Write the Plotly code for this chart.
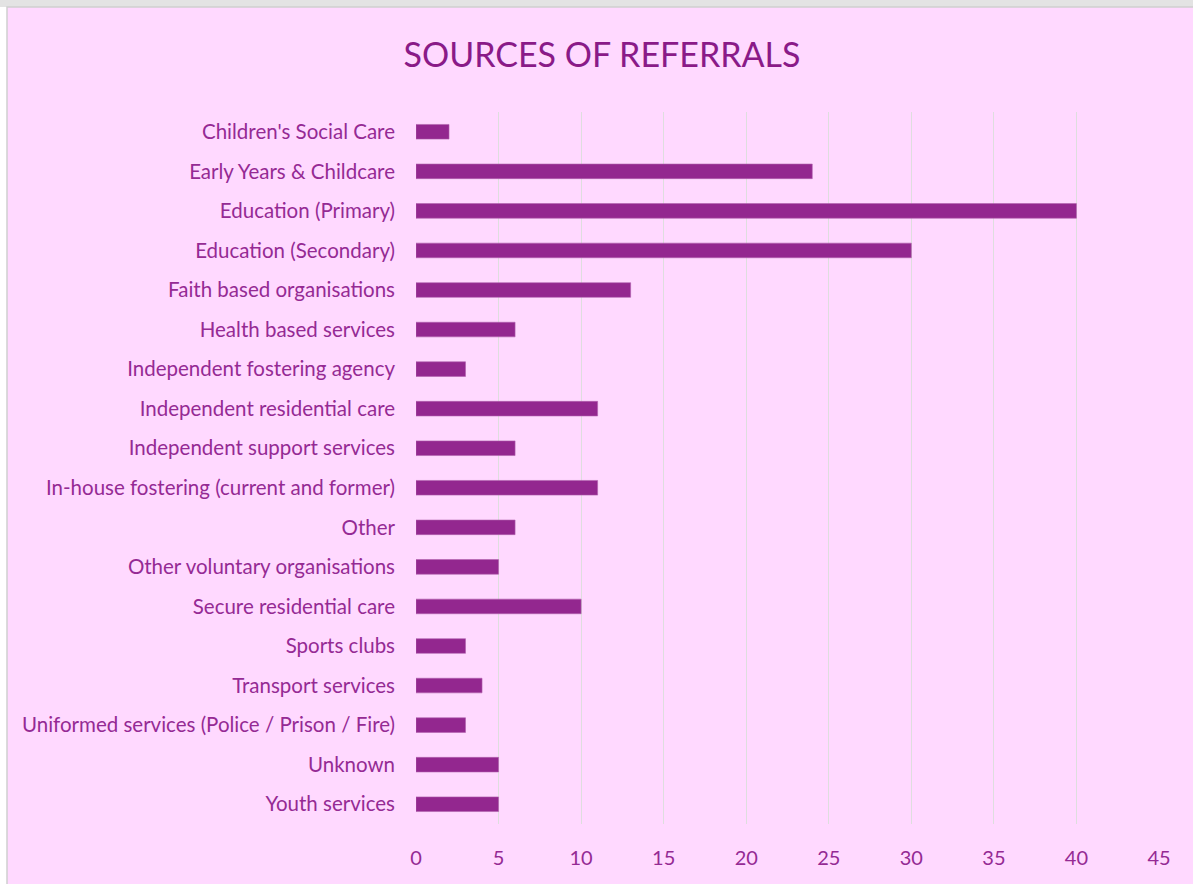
import plotly.graph_objects as go

# Referral sources, listed top to bottom
categories = [
    "Children's Social Care",
    "Early Years & Childcare",
    "Education (Primary)",
    "Education (Secondary)",
    "Faith based organisations",
    "Health based services",
    "Independent fostering agency",
    "Independent residential care",
    "Independent support services",
    "In-house fostering (current and former)",
    "Other",
    "Other voluntary organisations",
    "Secure residential care",
    "Sports clubs",
    "Transport services",
    "Uniformed services (Police / Prison / Fire)",
    "Unknown",
    "Youth services",
]
referrals = [2, 24, 40, 30, 13, 6, 3, 11, 6, 11, 6, 5, 10, 3, 4, 3, 5, 5]
x_ticks = [0, 5, 10, 15, 20, 25, 30, 35, 40, 45]

W, H = 1193, 884
L, R, T, B = 416, 34, 112, 60
PINK = "#FFD9FF"
BAR = "#93278F"
TEXT = "#952A94"
FONT = "Lato, 'Open Sans', sans-serif"

fig = go.Figure(
    go.Bar(
        x=referrals,
        y=categories,
        orientation="h",
        width=0.37,
        marker=dict(color=BAR, line=dict(color="#B061AD", width=0.6)),
        hoverinfo="x+y",
    )
)

pw, ph = W - L - R, H - T - B


def px_x(p):
    return (p - L) / pw


def px_y(p):
    return (H - B - p) / ph


# Chart frame: pink panel with a thin grey edge on the top and left
fig.add_shape(type="rect", xref="paper", yref="paper",
              x0=px_x(0), x1=px_x(W), y0=px_y(0), y1=px_y(7),
              fillcolor="#E3E3E3", line=dict(width=0), layer="below")
fig.add_shape(type="rect", xref="paper", yref="paper",
              x0=px_x(7), x1=px_x(W + 2), y0=px_y(H + 2), y1=px_y(7),
              fillcolor=PINK, line=dict(color="#CFCFCF", width=1.5), layer="below")

fig.update_layout(
    width=W,
    height=H,
    margin=dict(l=L, r=R, t=T, b=B, autoexpand=False),
    paper_bgcolor="white",
    plot_bgcolor=PINK,
    showlegend=False,
    bargap=0.63,
    title=dict(
        text="SOURCES OF REFERRALS",
        x=602 / W,
        xref="container",
        xanchor="center",
        y=1 - 55 / H,
        yref="container",
        yanchor="middle",
        font=dict(family=FONT, size=34, color="#8A1A88"),
    ),
    xaxis=dict(
        range=[0, 45],
        tickvals=x_ticks,
        showgrid=True,
        gridcolor="#DEDEDE",
        gridwidth=1,
        zeroline=False,
        showline=False,
        ticks="",
        ticklabelstandoff=20,
        tickfont=dict(family=FONT, size=20, color=TEXT),
        fixedrange=True,
    ),
    yaxis=dict(
        categoryorder="array",
        categoryarray=categories,
        autorange="reversed",
        showgrid=False,
        zeroline=False,
        showline=False,
        ticks="",
        ticklabelstandoff=20,
        tickfont=dict(family=FONT, size=20.5, color=TEXT),
        fixedrange=True,
    ),
)

fig.write_html("out.html")
